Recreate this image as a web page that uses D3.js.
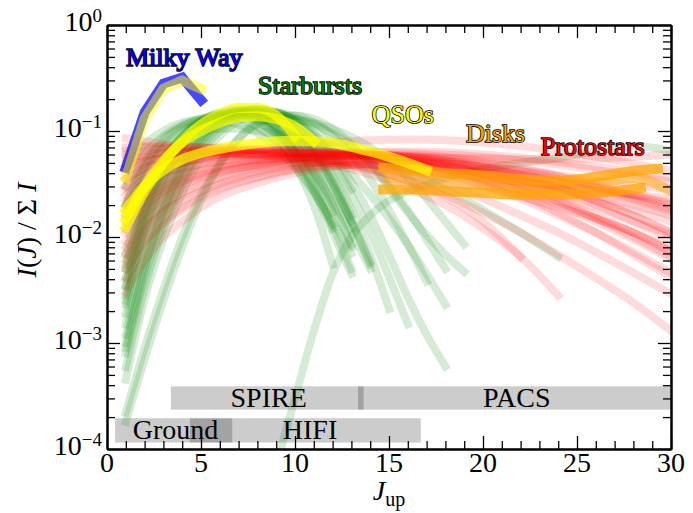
<!DOCTYPE html>
<html>
<head>
<meta charset="utf-8">
<script src="https://cdn.jsdelivr.net/npm/d3@7"></script>
<style>
  body { margin: 0; background: #fff; }
  text { font-family: "Liberation Serif", "Times New Roman", serif; }
</style>
</head>
<body>
<svg id="sled_graph" width="693" height="513"></svg>
<script>
// ---------------- data ----------------

// starbursts: sampled at these J_up
const starburstJ = [1,2,3,4,5,6,7,8,9,10,11,12,13,14,15,16,17,18,19,20,22,24,26,28,30]
const starbursts = [
    [0.0068,0.025,0.055,0.09,0.12,0.14,0.145,0.13,0.1,0.062,0.03,0.012],
    [0.0055,0.022,0.05,0.085,0.12,0.145,0.15,0.14,0.11,0.075,0.042,0.02,0.0085],
    [0.0042,0.018,0.045,0.08,0.115,0.14,0.15,0.14,0.112,0.075,0.04,0.017],
    [0.0034,0.015,0.04,0.075,0.11,0.14,0.155,0.15,0.125,0.09,0.055,0.028,0.012],
    [0.0028,0.013,0.035,0.07,0.11,0.145,0.16,0.155,0.13,0.095,0.058,0.03,0.014,0.0058],
    [0.0023,0.011,0.03,0.062,0.1,0.135,0.155,0.155,0.135,0.1,0.062,0.032,0.014],
    [0.0019,0.009,0.026,0.056,0.095,0.13,0.155,0.16,0.14,0.105,0.065,0.033,0.014,0.0055],
    [0.0015,0.0075,0.023,0.05,0.088,0.125,0.15,0.16,0.145,0.11,0.07,0.037,0.016],
    [0.0012,0.006,0.019,0.045,0.08,0.12,0.15,0.16,0.15,0.12,0.075,0.04,0.018,0.0068,0.0021],
    [0.001,0.005,0.016,0.04,0.075,0.115,0.145,0.16,0.15,0.125,0.085,0.05,0.025,0.011,0.0042,0.0015],
    [0.0008,0.0042,0.014,0.035,0.07,0.11,0.14,0.155,0.15,0.125,0.09,0.055,0.028],
    [0.00059,0.0033,0.012,0.031,0.064,0.1,0.135,0.15,0.148,0.128,0.095,0.06,0.033,0.016,0.0068,0.0027,0.0012,0.0006],
    [0.00045,0.0026,0.0095,0.026,0.055,0.09,0.125,0.145,0.15,0.135,0.105,0.07,0.04,0.025,0.015,0.0085,0.0045,0.0023],
    [0.00022,0.0009,0.0032,0.01,0.025,0.05,0.085,0.115,0.135,0.14,0.13,0.105,0.075,0.048,0.029,0.017,0.0105,0.0068,0.0047],
    [0.00018,0.0007,0.0025,0.008,0.022,0.048,0.085,0.12,0.14,0.14,0.12,0.09,0.06,0.035,0.018,0.0085,0.0038],
    [0.012,0.035,0.07,0.1,0.125,0.135,0.13,0.11,0.08,0.05,0.027,0.013],
    [0.02,0.05,0.085,0.11,0.125,0.125,0.115,0.095,0.07,0.045,0.026,0.014,0.007],
    [0.016,0.045,0.08,0.11,0.13,0.14,0.135,0.12,0.095,0.065,0.04,0.022,0.011,0.005],
    [0.045,0.075,0.1,0.12,0.13,0.135,0.14,0.14,0.135,0.13,0.12,0.105,0.088,0.07,0.052,0.036,0.023,0.014,0.0085],
    [0.03,0.06,0.09,0.115,0.13,0.14,0.145,0.145,0.14,0.13,0.115,0.095,0.072,0.05,0.031,0.018,0.0095,0.005],
    [null,null,null,null,null,null,null,null,0.00007,0.0003,0.0013,0.0045,0.01,0.016,0.022,0.027,0.031,0.036,0.04,0.044,0.05,0.056,0.064,0.072,0.065],
    [0.02,0.045,0.07,0.09,0.1,0.105,0.105,0.1,0.095,0.088,0.08,0.072,0.064,0.056,0.048,0.041,0.034,0.028,0.023,0.018,0.011,0.0065],
    [0.0009,0.005,0.018,0.045,0.085,0.125,0.15,0.15,0.125,0.085,0.045,0.02,0.008],
    [0.0025,0.012,0.035,0.07,0.11,0.14,0.15,0.135,0.1,0.06,0.028,0.011,0.0045],
    [0.0035,0.016,0.045,0.085,0.125,0.15,0.155,0.14,0.105,0.065,0.032,0.013,0.005],
    [0.005,0.02,0.05,0.09,0.125,0.145,0.145,0.125,0.09,0.048,0.02,0.0055]
]

// protostars
const protostarJ = [1,2,3,4,5,6,8,10,12,14,16,18,20,22,24,26,28,30]
const protostars = [
    [0.085,0.08,0.075,0.072,0.07,0.068,0.066,0.064,0.062,0.06,0.058,0.056,0.055,0.054,0.054,0.055,0.057,0.06],
    [0.06,0.065,0.068,0.07,0.07,0.07,0.068,0.065,0.062,0.058,0.053,0.048,0.043,0.038,0.033,0.029,0.025,0.021],
    [0.045,0.055,0.06,0.063,0.065,0.066,0.066,0.065,0.063,0.06,0.056,0.051,0.045,0.039,0.033,0.027,0.022,0.017],
    [0.035,0.045,0.052,0.056,0.058,0.06,0.062,0.062,0.06,0.056,0.05,0.043,0.035,0.027,0.02,0.014,0.0095,0.0062],
    [0.028,0.038,0.045,0.05,0.053,0.056,0.06,0.062,0.062,0.06,0.055,0.048,0.04,0.031,0.023,0.016,0.011,0.0072],
    [0.022,0.032,0.04,0.045,0.049,0.052,0.057,0.06,0.061,0.06,0.057,0.052,0.045,0.037,0.029,0.022,0.016,0.011],
    [0.018,0.027,0.034,0.04,0.044,0.048,0.053,0.057,0.059,0.059,0.057,0.053,0.048,0.042,0.035,0.029,0.023,0.018],
    [0.014,0.022,0.029,0.035,0.04,0.044,0.05,0.055,0.058,0.059,0.058,0.055,0.05,0.044,0.037,0.03,0.024,0.019],
    [0.011,0.018,0.025,0.031,0.036,0.041,0.048,0.054,0.058,0.06,0.06,0.057,0.052,0.045,0.038,0.031,0.025,0.02],
    [0.008,0.014,0.02,0.026,0.031,0.036,0.044,0.051,0.056,0.058,0.057,0.053,0.046,0.038,0.03,0.022,0.016,0.011],
    [0.006,0.011,0.017,0.022,0.027,0.032,0.04,0.047,0.052,0.054,0.052,0.047,0.039,0.03,0.022,0.015,0.01,0.0065],
    [0.005,0.009,0.014,0.019,0.024,0.029,0.037,0.044,0.049,0.051,0.049,0.043,0.034,0.025,0.017,0.011,0.0068,0.0042],
    [0.04,0.05,0.056,0.06,0.062,0.063,0.062,0.058,0.052,0.044,0.034,0.024,0.014,0.0065],
    [0.03,0.042,0.05,0.055,0.058,0.06,0.059,0.055,0.048,0.039,0.029,0.02,0.012,0.0065,0.0028],
    [0.02,0.03,0.038,0.044,0.048,0.051,0.054,0.054,0.05,0.043,0.034,0.025,0.017,0.011,0.0068,0.0041,0.0024,0.0013],
    [0.012,0.02,0.027,0.033,0.038,0.042,0.047,0.05,0.05,0.046,0.039,0.031,0.023,0.016,0.011,0.0072,0.0046,0.0029],
    [0.05,0.058,0.062,0.064,0.065,0.065,0.064,0.062,0.06,0.057,0.054,0.05,0.046,0.042,0.038,0.034,0.031,0.028],
    [0.07,0.072,0.072,0.071,0.07,0.068,0.065,0.062,0.058,0.054,0.049,0.044,0.039,0.034,0.029,0.024,0.02,0.016],
    [0.025,0.035,0.043,0.05,0.055,0.06,0.067,0.073,0.078,0.082,0.083,0.082,0.078,0.072,0.065,0.057,0.049,0.042],
    [0.009,0.016,0.023,0.029,0.035,0.04,0.048,0.055,0.06,0.063,0.064,0.063,0.06,0.056,0.051,0.046,0.041,0.036],
    [0.016,0.024,0.031,0.037,0.042,0.046,0.052,0.056,0.058,0.058,0.055,0.05,0.043,0.035,0.027,0.02,0.014,0.0095],
    [0.055,0.06,0.062,0.063,0.063,0.062,0.06,0.057,0.053,0.048,0.042,0.036,0.03,0.024,0.019,0.015,0.011,0.008],
    [0.065,0.07,0.07,0.068,0.066,0.064,0.06,0.056,0.052,0.048,0.044,0.04,0.036,0.033,0.03,0.027,0.025,0.023],
    [0.007,0.012,0.018,0.024,0.029,0.034,0.042,0.048,0.052,0.053,0.05,0.044,0.036,0.028,0.021,0.015,0.011,0.0075],
    [0.035,0.045,0.05,0.053,0.055,0.057,0.06,0.062,0.063,0.063,0.062,0.06,0.057,0.053,0.048,0.043,0.038,0.033],
    [0.045,0.052,0.056,0.058,0.06,0.061,0.062,0.062,0.06,0.057,0.052,0.046,0.039,0.032,0.025,0.019,0.014,0.0105],
    [0.004,0.008,0.013,0.018,0.023,0.028,0.036,0.043,0.047,0.048,0.045,0.039,0.031,0.023,0.016,0.011,0.0072,0.0046],
    [0.003,0.006,0.01,0.014,0.019,0.024,0.032,0.04,0.046,0.049,0.049,0.046,0.041,0.035,0.029,0.023,0.018,0.014]
]

// disks (PACS range only)
const diskAJ = [14.7,16,18,20,22,24,26,28,29.3]
const diskA  = [0.045,0.043,0.04,0.038,0.035,0.034,0.037,0.042,0.044]
const diskBJ = [14.7,16,18,20,22,24,26,28.4]
const diskB  = [0.028,0.028,0.027,0.026,0.025,0.025,0.026,0.029]
const diskCJ = [15,16,18,20,22,24,26,28,30]
const diskC  = [0.036,0.035,0.033,0.031,0.029,0.029,0.032,0.036,0.027]

// QSOs
const qsoJ = [1,2,3,4,5,6,7,8,9,10,11,12,13,14,15,16,17]
const qsos = [
    [0.0125,0.027,0.05,0.08,0.115,0.145,0.165,0.165,0.14,0.09],
    [0.015,0.03,0.052,0.078,0.1,0.12,0.135,0.138,0.13,0.11,0.08],
    [0.018,0.03,0.043,0.054,0.062,0.068,0.073,0.077,0.08,0.081,0.08,0.077,0.071,0.064,0.057,0.05,0.043]
]

// Milky Way (blue) and the yellow curve drawn over it
const milkyWayJ = [1,2,3,4,5]
const milkyWay = [0.045,0.15,0.28,0.32,0.196]
const milkyWayOverlay = [0.036,0.13,0.25,0.3,0.25]

// instrument coverage bars
const instrumentNames = ["Ground","HIFI","SPIRE","PACS"]
const instrumentFrom  = [0.43,4.41,3.4,13.35]
const instrumentTo    = [6.66,16.69,13.65,31]
const instrumentLow   = [1.15e-4,1.15e-4,2.35e-4,2.35e-4]
const instrumentHigh  = [1.95e-4,1.95e-4,3.9e-4,3.9e-4]
const instrumentTextJ = [3.64,10.8,8.6,21.8]

const classNames  = ["Milky Way","Starbursts","QSOs","Disks","Protostars"]
const classColors = ["#0000ff","#008000","#ffff00","#ffa500","#ff0000"]

const xTickValues = [0,5,10,15,20,25,30]
const yExponents = [0,-1,-2,-3,-4]

// ---------------- layout ----------------
const plotLeft = 107, plotRight = 671, plotTop = 25, plotBottom = 449

const xScale = d3.scaleLinear().domain([0, 30]).range([plotLeft, plotRight])
const yScale = d3.scaleLog().domain([1e-4, 1]).range([plotBottom, plotTop])

const svg = d3.select("#sled_graph")

svg.append("clipPath").attr("id", "plotArea")
    .append("rect")
    .attr("x", plotLeft).attr("y", plotTop)
    .attr("width", plotRight - plotLeft).attr("height", plotBottom - plotTop)

const plot = svg.append("g").attr("clip-path", "url(#plotArea)")

// Instrument bars (black, alpha 0.2 -> overlaps get darker)
instrumentNames.forEach(function(name, i) {
    plot.append("rect")
        .attr("x", xScale(instrumentFrom[i]))
        .attr("width", xScale(instrumentTo[i]) - xScale(instrumentFrom[i]))
        .attr("y", yScale(instrumentHigh[i]))
        .attr("height", yScale(instrumentLow[i]) - yScale(instrumentHigh[i]))
        .attr("fill", "#000")
        .attr("fill-opacity", 0.2)
})

function drawSleds(sleds, jValues, color, opacity, lineWidth, curve) {
    const line = d3.line()
        .defined(function(d) { return d[1] != null })
        .x(function(d) { return xScale(d[0]) })
        .y(function(d) { return yScale(d[1]) })
        .curve(curve)

    for (const sled of sleds) {
        plot.append("path")
            .datum(sled.map(function(v, i) { return [jValues[i], v] }))
            .attr("fill", "none")
            .attr("stroke", color)
            .attr("stroke-opacity", opacity)
            .attr("stroke-width", lineWidth)
            .attr("stroke-linecap", "square")
            .attr("stroke-linejoin", "miter")
            .attr("d", line)
    }
}

drawSleds(starbursts, starburstJ, "#008000", 0.16, 8, d3.curveMonotoneX)
drawSleds(protostars, protostarJ, "#ff0000", 0.14, 8, d3.curveMonotoneX)
drawSleds([diskA], diskAJ, "#ffa500", 0.75, 10, d3.curveMonotoneX)
drawSleds([diskB], diskBJ, "#ffa500", 0.75, 10, d3.curveMonotoneX)
drawSleds([diskC], diskCJ, "#ffa500", 0.5, 10, d3.curveMonotoneX)
drawSleds(qsos, qsoJ, "#ffff00", 0.7, 10, d3.curveMonotoneX)
drawSleds([milkyWay], milkyWayJ, "#0000ff", 0.72, 10, d3.curveLinear)
drawSleds([milkyWayOverlay], milkyWayJ, "#ffff00", 0.5, 10, d3.curveLinear)

// Instrument names
instrumentNames.forEach(function(name, i) {
    svg.append("text")
        .attr("x", xScale(instrumentTextJ[i]))
        .attr("y", yScale(Math.sqrt(instrumentLow[i] * instrumentHigh[i])) + 9)
        .attr("text-anchor", "middle")
        .attr("font-size", 28)
        .attr("fill", "#000")
        .text(name)
})

// Class labels
const labelPos = [[126, 65.7], [258, 94.3], [371.7, 123.3], [466, 141.7], [540.7, 155]]
classNames.forEach(function(name, i) {
    svg.append("text")
        .attr("x", labelPos[i][0])
        .attr("y", labelPos[i][1])
        .attr("font-size", 26)
        .attr("fill", classColors[i])
        .attr("stroke", "#000")
        .attr("stroke-width", 1.6)
        .attr("paint-order", "stroke")
        .text(name)
})

// ---------------- axes (ticks pointing inward on all sides) ----------------
const yMajor = yExponents.map(function(e) { return Math.pow(10, e) })
const yMinor = yScale.ticks().filter(function(t) { return yMajor.indexOf(t) < 0 })
const xMinor = xScale.ticks(30).filter(function(t) { return t % 5 != 0 })

function addAxis(axis, transform) {
    const g = svg.append("g").attr("transform", transform).call(axis)
    g.select(".domain").attr("stroke-width", 2)
    g.selectAll(".tick line").attr("stroke-width", 1.3)
    return g
}

addAxis(d3.axisLeft(yScale).tickValues(yMajor).tickSize(-13).tickSizeOuter(0).tickFormat(""), `translate(${plotLeft},0)`)
addAxis(d3.axisLeft(yScale).tickValues(yMinor).tickSize(-8).tickSizeOuter(0).tickFormat(""), `translate(${plotLeft},0)`)
addAxis(d3.axisRight(yScale).tickValues(yMajor).tickSize(-13).tickSizeOuter(0).tickFormat(""), `translate(${plotRight},0)`)
addAxis(d3.axisRight(yScale).tickValues(yMinor).tickSize(-8).tickSizeOuter(0).tickFormat(""), `translate(${plotRight},0)`)
addAxis(d3.axisBottom(xScale).tickValues(xTickValues).tickSize(-13).tickSizeOuter(0).tickFormat(""), `translate(0,${plotBottom})`)
addAxis(d3.axisBottom(xScale).tickValues(xMinor).tickSize(-8).tickSizeOuter(0).tickFormat(""), `translate(0,${plotBottom})`)
addAxis(d3.axisTop(xScale).tickValues(xTickValues).tickSize(-13).tickSizeOuter(0).tickFormat(""), `translate(0,${plotTop})`)
addAxis(d3.axisTop(xScale).tickValues(xMinor).tickSize(-8).tickSizeOuter(0).tickFormat(""), `translate(0,${plotTop})`)

// x tick labels
xTickValues.forEach(function(t) {
    svg.append("text")
        .attr("x", xScale(t))
        .attr("y", plotBottom + 23)
        .attr("text-anchor", "middle")
        .attr("font-size", 28)
        .text(t)
})

// y tick labels 10^n
yExponents.forEach(function(e) {
    const label = svg.append("text")
        .attr("x", plotLeft - 5)
        .attr("y", yScale(Math.pow(10, e)) + 6)
        .attr("text-anchor", "end")
        .attr("font-size", 28)
    label.append("tspan").text("10")
    label.append("tspan")
        .attr("font-size", 19)
        .attr("dy", -9)
        .text(e < 0 ? "\u2212" + (-e) : e)
})

// x axis title: J_up
const xTitle = svg.append("text")
    .attr("x", (plotLeft + plotRight) / 2)
    .attr("y", 500)
    .attr("text-anchor", "middle")
    .attr("font-size", 28)
xTitle.append("tspan").attr("font-style", "italic").text("J")
xTitle.append("tspan").attr("font-size", 20).attr("dy", 6).text("up")

// y axis title: I(J) / Σ I
const yTitle = svg.append("text")
    .attr("transform", "translate(36,230) rotate(-90)")
    .attr("text-anchor", "middle")
    .attr("font-size", 28)
yTitle.append("tspan").attr("font-style", "italic").text("I")
yTitle.append("tspan").text("(")
yTitle.append("tspan").attr("font-style", "italic").text("J")
yTitle.append("tspan").text(") / \u03A3 ")
yTitle.append("tspan").attr("font-style", "italic").text("I")
</script>
</body>
</html>
